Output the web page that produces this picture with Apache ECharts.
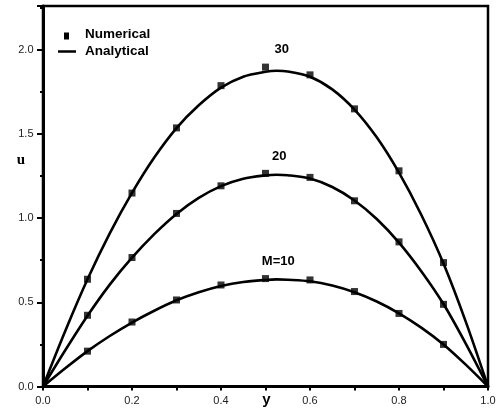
<!DOCTYPE html>
<html>
<head>
<meta charset="utf-8">
<script src="https://cdn.jsdelivr.net/npm/echarts@6/dist/echarts.min.js"></script>
<style>html,body{margin:0;padding:0;background:#fff;}#c{width:504px;height:412px;}</style>
</head>
<body>
<div id="c"></div>
<script>
// Numerical points (markers)
const xNum = [0.1, 0.2, 0.3, 0.4, 0.5, 0.6, 0.7, 0.8, 0.9];
const numM10 = [0.21, 0.383, 0.514, 0.603, 0.641, 0.633, 0.564, 0.434, 0.25];
const numM20 = [0.423, 0.766, 1.028, 1.192, 1.266, 1.242, 1.103, 0.859, 0.488];
const numM30 = [0.637, 1.149, 1.536, 1.787, 1.897, 1.851, 1.649, 1.281, 0.736];

// Analytical curves
const xAna = [0, 0.05, 0.1, 0.15, 0.2, 0.25, 0.3, 0.35, 0.4, 0.45, 0.5, 0.525, 0.55, 0.6, 0.65, 0.7, 0.75, 0.8, 0.85, 0.9, 0.95, 1.0];
const anaM10 = [0, 0.108, 0.21, 0.30, 0.38, 0.45, 0.512, 0.56, 0.597, 0.621, 0.633, 0.636, 0.634, 0.625, 0.60, 0.56, 0.505, 0.435, 0.35, 0.25, 0.13, 0];
const anaM20 = [0, 0.215, 0.42, 0.605, 0.765, 0.905, 1.025, 1.12, 1.19, 1.234, 1.254, 1.258, 1.255, 1.235, 1.185, 1.105, 0.995, 0.855, 0.685, 0.49, 0.255, 0];
const anaM30 = [0, 0.33, 0.637, 0.91, 1.15, 1.36, 1.535, 1.67, 1.775, 1.84, 1.869, 1.875, 1.871, 1.84, 1.765, 1.645, 1.48, 1.27, 1.02, 0.73, 0.385, 0];

const curveLabels = ['M=10', '20', '30'];
const xTickLabels = ['0.0', '0.2', '0.4', '0.6', '0.8', '1.0'];
const yTickLabels = ['0.0', '0.5', '1.0', '1.5', '2.0'];

const zip = (xs, ys) => xs.map((x, i) => [x, ys[i]]);

const chart = echarts.init(document.getElementById('c'));

const lineSeries = [anaM10, anaM20, anaM30].map(d => ({
  name: 'Analytical', type: 'line', data: zip(xAna, d), smooth: 0.3,
  symbol: 'none', lineStyle: { color: '#000', width: 2.6 }, z: 2, silent: true
}));
const scatterSeries = [numM10, numM20, numM30].map(d => ({
  name: 'Numerical', type: 'scatter', data: zip(xNum, d), symbol: 'rect',
  symbolSize: 7, itemStyle: { color: '#000' }, z: 3, silent: true
}));

const labelStyle = { fontFamily: 'Liberation Sans', fontSize: 11, color: '#222' };

chart.setOption({
  animation: false,
  backgroundColor: '#fff',
  grid: { left: 43, right: 16, top: 6, bottom: 25.5, show: true, borderColor: '#000', borderWidth: 2.5 },
  xAxis: {
    type: 'value', min: 0, max: 1, interval: 0.2,
    axisLine: { show: true, lineStyle: { color: '#000', width: 3 } },
    axisTick: { show: true, inside: false, length: 4, lineStyle: { color: '#000', width: 2 } },
    minorTick: { show: true, splitNumber: 2, length: 4, lineStyle: { color: '#000', width: 2 } },
    splitLine: { show: false },
    axisLabel: Object.assign({ margin: 9, formatter: v => xTickLabels[Math.round(v / 0.2)] || '' }, labelStyle)
  },
  yAxis: {
    type: 'value', min: 0, max: 2.26, interval: 0.5,
    axisLine: { show: true, lineStyle: { color: '#000', width: 3 } },
    axisTick: { show: true, inside: false, length: 6, lineStyle: { color: '#000', width: 2 } },
    minorTick: { show: true, splitNumber: 2, length: 3, lineStyle: { color: '#000', width: 2 } },
    splitLine: { show: false },
    axisLabel: Object.assign({ margin: 9.5, showMaxLabel: false, formatter: v => {
      const k = Math.round(v / 0.5);
      return Math.abs(v - k * 0.5) < 1e-6 ? (yTickLabels[k] || '') : '';
    } }, labelStyle)
  },
  series: [...lineSeries, ...scatterSeries],
  graphic: [
    // legend
    { type: 'rect', left: 64, top: 32.5, shape: { width: 5, height: 7 }, style: { fill: '#000' } },
    { type: 'line', shape: { x1: 58, y1: 51.5, x2: 76, y2: 51.5 }, style: { stroke: '#000', lineWidth: 2.5 } },
    { type: 'text', x: 85, y: 34.5, style: { text: 'Numerical', font: 'bold 13.5px "Liberation Sans"', fill: '#000', verticalAlign: 'middle' } },
    { type: 'text', x: 85, y: 51.5, style: { text: 'Analytical', font: 'bold 13.5px "Liberation Sans"', fill: '#000', verticalAlign: 'middle' } },
    // curve labels
    { type: 'text', x: 278.3, y: 261.5, style: { text: curveLabels[0], font: 'bold 13px "Liberation Sans"', fill: '#000', align: 'center', verticalAlign: 'middle' } },
    { type: 'text', x: 279.3, y: 156.5, style: { text: curveLabels[1], font: 'bold 13px "Liberation Sans"', fill: '#000', align: 'center', verticalAlign: 'middle' } },
    { type: 'text', x: 281.7, y: 49, style: { text: curveLabels[2], font: 'bold 13px "Liberation Sans"', fill: '#000', align: 'center', verticalAlign: 'middle' } },
    // axis names
    { type: 'text', x: 21, y: 160, style: { text: 'u', font: 'bold 15px "Liberation Serif"', fill: '#000', align: 'center', verticalAlign: 'middle' } },
    { type: 'text', x: 266.5, y: 400, style: { text: 'y', font: 'bold 15px "Liberation Sans"', fill: '#000', align: 'center', verticalAlign: 'middle' } }
  ]
});
</script>
</body>
</html>
